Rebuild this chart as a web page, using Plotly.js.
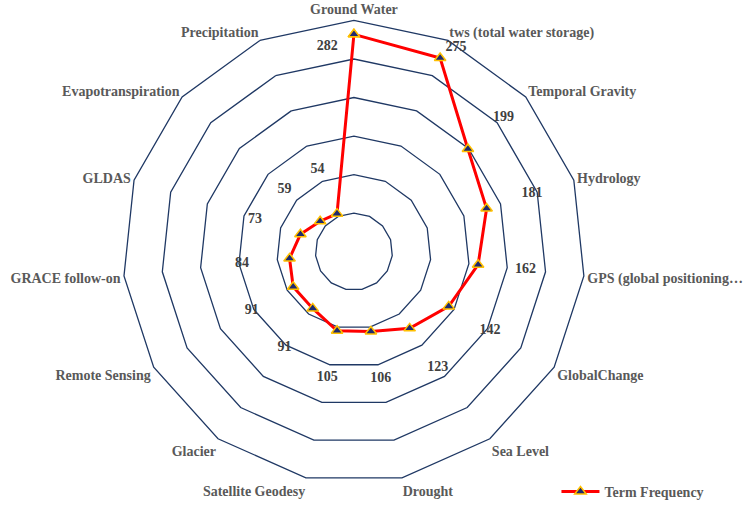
<!DOCTYPE html>
<html>
<head>
<meta charset="utf-8">
<script src="https://cdn.plot.ly/plotly-3.0.1.min.js"></script>
<style>html,body{margin:0;padding:0;background:#fff;}#chart{width:754px;height:508px;}</style>
</head>
<body>
<div id="chart"></div>
<script>
// ---- data ----
const categories = [
  "Ground Water", "tws (total water storage)", "Temporal Gravity", "Hydrology",
  "GPS (global positioning…", "GlobalChange", "Sea Level", "Drought",
  "Satellite Geodesy", "Glacier", "Remote Sensing", "GRACE follow-on",
  "GLDAS", "Evapotranspiration", "Precipitation"
];
const values = [282, 275, 199, 181, 162, 142, 123, 106, 105, 91, 91, 84, 73, 59, 54];
const seriesName = "Term Frequency";

// ---- styling / layout helpers ----
const navy = "#1F3864";
const serif = "Liberation Serif, Times New Roman, serif";
const step = 360 / categories.length;

// data-label placement (outward from each point), with special cases for the two top labels
const labelTheta = values.map((v, i) => i * step);
const labelR = values.map(v => v + 62);
labelTheta[0] = 352.6; labelR[0] = 269;
labelTheta[1] = 26.6;  labelR[1] = 296;

const rClosed = values.concat([values[0]]);
const tClosed = categories.concat([categories[0]]);

const traces = [
  {
    type: "scatterpolar",
    subplot: "polar",
    r: rClosed,
    theta: tClosed,
    mode: "lines+markers",
    name: seriesName,
    line: {color: "#FF0000", width: 3},
    marker: {symbol: "triangle-up", size: 10, color: "#1F2A6E",
             line: {color: "#FFC000", width: 1.5}},
    hoverinfo: "skip",
    cliponaxis: false
  },
  {
    type: "scatterpolar",
    subplot: "polar2",
    r: labelR,
    theta: labelTheta,
    mode: "text",
    text: values.map(String),
    textposition: "middle center",
    textfont: {family: serif, size: 14, color: "#404040", weight: "bold"},
    showlegend: false,
    hoverinfo: "skip",
    cliponaxis: false
  }
];

const domain = {x: [0.1597, 0.7791], y: [0.0400, 0.9593]};

const layout = {
  width: 754, height: 508,
  margin: {l: 0, r: 0, t: 0, b: 0},
  paper_bgcolor: "#ffffff",
  plot_bgcolor: "#ffffff",
  showlegend: true,
  legend: {
    x: 0.738, y: 0.021, xanchor: "left", yanchor: "middle",
    bgcolor: "rgba(0,0,0,0)",
    font: {family: serif, size: 14, color: "#595959", weight: "bold"},
    itemwidth: 38
  },
  polar: {
    domain: domain,
    bgcolor: "#ffffff",
    gridshape: "linear",
    radialaxis: {
      range: [0, 300], dtick: 50, tick0: 0,
      showticklabels: false, ticks: "", showline: false,
      gridcolor: navy, gridwidth: 1.3
    },
    angularaxis: {
      type: "category",
      rotation: 90, direction: "clockwise",
      showgrid: false, ticks: "",
      linecolor: navy, linewidth: 1.3,
      tickfont: {family: serif, size: 14, color: "#595959", weight: "bold"}
    }
  },
  polar2: {
    domain: domain,
    bgcolor: "rgba(0,0,0,0)",
    radialaxis: {range: [0, 300], visible: false},
    angularaxis: {type: "linear", rotation: 90, direction: "clockwise", visible: false}
  }
};

Plotly.newPlot("chart", traces, layout, {displayModeBar: false, staticPlot: true});
</script>
</body>
</html>
